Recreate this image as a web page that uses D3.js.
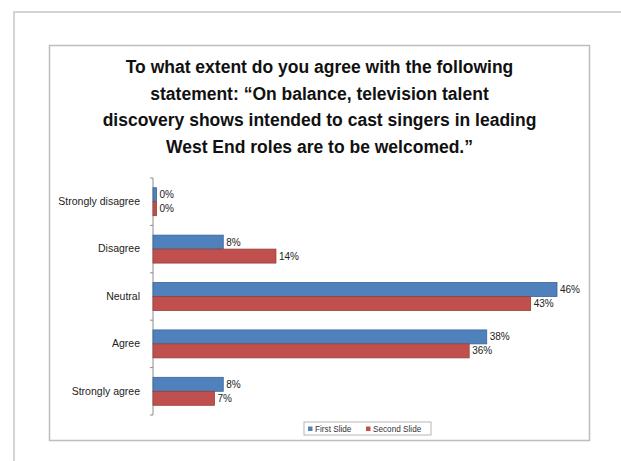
<!DOCTYPE html>
<html>
<head>
<meta charset="utf-8">
<script src="https://cdn.jsdelivr.net/npm/d3@7"></script>
<style>
  html, body { margin: 0; padding: 0; background: #fff; }
  svg { display: block; }
</style>
</head>
<body>
<svg id="chart" width="621" height="461"></svg>
<script>
// Survey responses, percent of respondents
const categories = ["Strongly disagree", "Disagree", "Neutral", "Agree", "Strongly agree"];
const seriesNames = ["First Slide", "Second Slide"];
const firstSlide = [0.4, 8, 46, 38, 8];
const secondSlide = [0.4, 14, 43, 36, 7];
const titleLines = [
  "To what extent do you agree with the following",
  "statement: \u201COn balance, television talent",
  "discovery shows intended to cast singers in leading",
  "West End roles are to be welcomed.\u201D"
];
const colors = ["#4F81BD", "#C0504D"];
const strokes = ["#3A6597", "#993E3B"];

const svg = d3.select("#chart");
const font = "'Liberation Sans', Arial, sans-serif";

// page frame
svg.append("path")
  .attr("d", "M14,461 V12 H621")
  .attr("fill", "none").attr("stroke", "#d4d4d4").attr("stroke-width", 2);

// chart area frame
svg.append("rect")
  .attr("x", 49.5).attr("y", 45.5).attr("width", 540).attr("height", 395)
  .attr("fill", "#fff").attr("stroke", "#bdbdbd").attr("stroke-width", 1.5);

// title
svg.append("g").selectAll("text").data(titleLines).join("text")
  .attr("x", 319.5)
  .attr("y", (d, i) => 73 + i * 26.5)
  .attr("text-anchor", "middle")
  .attr("font-family", font)
  .attr("font-weight", "bold")
  .attr("font-size", 17.5)
  .attr("fill", "#111")
  .text(d => d);

// scales
const x = d3.scaleLinear().domain([0, 46]).range([153, 557]);
const y = d3.scaleBand().domain(categories).range([178, 415]).paddingInner(0.41).paddingOuter(0.205);
const y1 = d3.scaleBand().domain(seriesNames).range([0, y.bandwidth()]);

// category axis
const axis = d3.axisLeft(y).tickSize(0).tickPadding(13);
const gAxis = svg.append("g").attr("transform", "translate(153,0)").call(axis);
gAxis.select(".domain").attr("stroke", "#8c8c8c");
gAxis.selectAll("text")
  .attr("font-family", font).attr("font-size", 10.5).attr("fill", "#222");

// tick marks between categories
const step = y.step();
const bounds = d3.range(categories.length + 1).map(i => 178 + i * step);
gAxis.selectAll("line.sep").data(bounds).join("line")
  .attr("class", "sep")
  .attr("x1", -3).attr("x2", 0)
  .attr("y1", d => d).attr("y2", d => d)
  .attr("stroke", "#8c8c8c");
gAxis.select(".domain").attr("d", `M0,178V${bounds[bounds.length - 1]}`);

// bars
const rows = categories.map((c, i) => ({
  cat: c,
  vals: [
    { s: seriesNames[0], v: firstSlide[i], k: 0 },
    { s: seriesNames[1], v: secondSlide[i], k: 1 }
  ]
}));

const fmt = v => d3.format(".0%")(v / 100);

const gRow = svg.append("g").selectAll("g").data(rows).join("g")
  .attr("transform", d => `translate(0,${y(d.cat)})`);

gRow.selectAll("rect").data(d => d.vals).join("rect")
  .attr("x", x(0))
  .attr("y", d => y1(d.s))
  .attr("width", d => x(d.v) - x(0))
  .attr("height", y1.bandwidth())
  .attr("fill", d => colors[d.k])
  .attr("stroke", d => strokes[d.k])
  .attr("stroke-width", 0.8);

gRow.selectAll("text").data(d => d.vals).join("text")
  .attr("x", d => x(d.v) + 3)
  .attr("y", d => y1(d.s) + y1.bandwidth() / 2 + 3.5)
  .attr("font-family", font)
  .attr("font-size", 10)
  .attr("fill", "#222")
  .text(d => fmt(d.v));

// legend
const lg = svg.append("g").attr("transform", "translate(304,422)");
lg.append("rect").attr("width", 127).attr("height", 13)
  .attr("fill", "#fff").attr("stroke", "#b5b5b5");
const items = [{ n: seriesNames[0], x: 4 }, { n: seriesNames[1], x: 62 }];
items.forEach((it, i) => {
  lg.append("rect").attr("x", it.x).attr("y", 4.5).attr("width", 4.5).attr("height", 4.5)
    .attr("fill", colors[i]);
  lg.append("text").attr("x", it.x + 7).attr("y", 9.8)
    .attr("font-family", font).attr("font-size", 8.2).attr("fill", "#333")
    .text(it.n);
});
</script>
</body>
</html>
